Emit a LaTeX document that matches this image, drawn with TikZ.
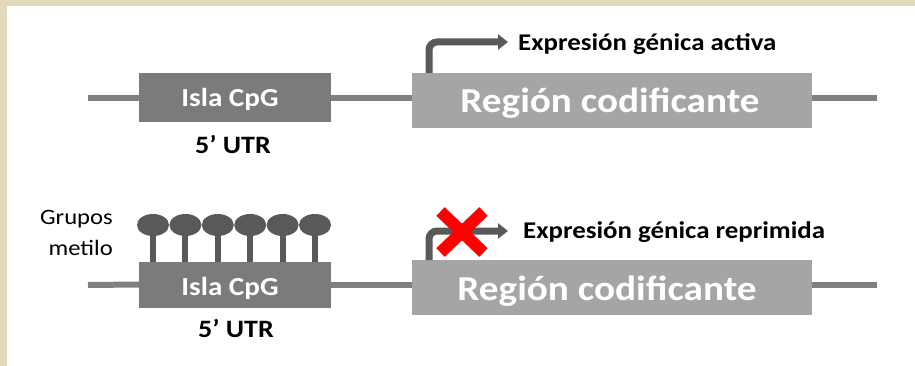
\documentclass[tikz,border=0pt]{standalone}
\usepackage{fontspec}
\setmainfont{Carlito}[FakeStretch=1.12]
\usetikzlibrary{arrows.meta,shapes.geometric,shapes.misc}
\definecolor{framebeige}{HTML}{E2D9BA}
\definecolor{dnagray}{HTML}{808080}
\definecolor{islagray}{HTML}{7B7B7B}
\definecolor{regiongray}{HTML}{A5A5A5}
\definecolor{darkgray}{HTML}{595959}
\tikzset{
  dnaline/.style={draw=dnagray, line width=6pt},
  islabox/.style={fill=islagray, minimum width=192pt, inner sep=0pt, outer sep=0pt},
  regionbox/.style={fill=regiongray, minimum width=400pt, minimum height=55pt, inner sep=0pt, outer sep=0pt},
  islatext/.style={text=white, inner sep=0pt, anchor=base, font=\bfseries\fontsize{26}{30}\selectfont},
  regiontext/.style={text=white, inner sep=0pt, anchor=base, font=\bfseries\fontsize{35}{40}\selectfont},
  utrtext/.style={inner sep=0pt, anchor=base, font=\bfseries\fontsize{25}{30}\selectfont},
  exprtext/.style={inner sep=0pt, anchor=base west, font=\bfseries\fontsize{24}{28}\selectfont},
  grupotext/.style={inner sep=0pt, anchor=base east, font=\fontsize{22}{26}\selectfont},
  promoter/.style={draw=darkgray, line width=7pt, rounded corners=8pt, -{Triangle[length=10pt,width=15pt]}},
  methylhead/.style={ellipse, fill=darkgray, minimum width=32pt, minimum height=22pt, inner sep=0pt},
  methylstem/.style={draw=darkgray, line width=6pt},
  redcross/.style={cross out, draw=red, line width=12pt, minimum width=31pt, minimum height=29pt, inner sep=0pt}
}
\begin{document}
\begin{tikzpicture}[x=1pt,y=-1pt]
\useasboundingbox (0,0) rectangle (915,366);
\fill[framebeige] (0,0) rectangle (915,366);
\fill[white] (7,6) rectangle (915,366);

% ---------- top row ----------
\coordinate (L1) at (88,98);
\coordinate (R1) at (877,98);
\node[islabox, minimum height=49pt] (isla1) at (235,98) {};
\node[regionbox] (reg1) at (612,100.5) {};
\draw[dnaline] (L1) -- (isla1.west);
\draw[dnaline] (isla1.east) -- (isla1.east -| reg1.west);
\draw[dnaline] (reg1.east |- L1) -- (R1);
\node[islatext] (islat1) at (230,107) {Isla CpG};
\node[regiontext] (regt1) at (610,113) {Región codificante};
\node[utrtext] (utr1) at (233,154) {5’ UTR};
\coordinate (tip1) at (508,42);
\draw[promoter] ([xshift=17pt]reg1.north west) |- (tip1);
\node[exprtext] (expr1) at (518,51) {Expresión génica activa};

% ---------- bottom row ----------
\coordinate (L2) at (88,285);
\coordinate (R2) at (877,285);
\node[islabox, minimum height=46pt] (isla2) at (235,284.5) {};
\node[regionbox] (reg2) at (612,287.5) {};
\draw[dnaline] (L2) -- (isla2.west);
\draw[dnaline] (isla2.east |- L2) -- (L2 -| reg2.west);
\draw[dnaline] (reg2.east |- L2) -- (R2);
\foreach \i in {0,...,5} {
  \node[methylhead] (head\i) at (153+32.4*\i,225) {};
  \draw[methylstem] (head\i.center) -- (head\i.center |- isla2.north);
}
\node[islatext] (islat2) at (230,295) {Isla CpG};
\node[regiontext] (regt2) at (607,300) {Región codificante};
\node[utrtext] (utr2) at (236,337) {5’ UTR};
\node[grupotext] (grupos) at (113,225) {Grupos};
\node[grupotext] (metilo) at (113,255) {metilo};
\coordinate (tip2) at (508,231);
\draw[promoter] ([xshift=17pt]reg2.north west) |- (tip2);
\node[redcross] (cross) at (462,232) {};
\node[exprtext] (expr2) at (523,238) {Expresión génica reprimida};
\end{tikzpicture}
\end{document}
